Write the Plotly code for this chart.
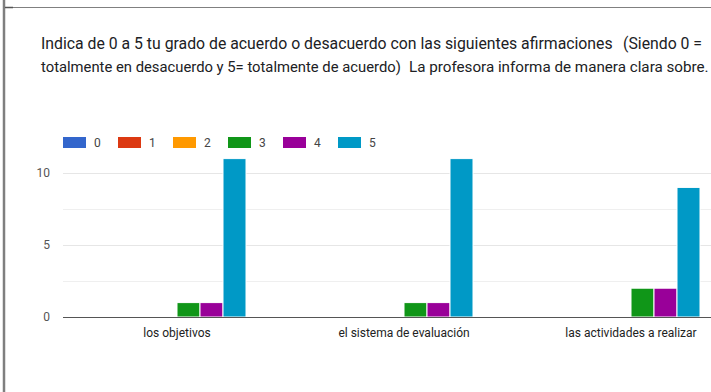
import plotly.graph_objects as go

# Survey results: how many answers got each score (0-5) per statement
categories = ["los objetivos", "el sistema de evaluación", "las actividades a realizar"]
series_names = ["0", "1", "2", "3", "4", "5"]
counts = {
    "0": [0, 0, 0],
    "1": [0, 0, 0],
    "2": [0, 0, 0],
    "3": [1, 1, 2],
    "4": [1, 1, 2],
    "5": [11, 11, 9],
}
colors = ["#3366cc", "#dc3912", "#ff9900", "#109618", "#990099", "#0099c6"]
y_ticks = [0, 5, 10]

# question text pieces: (text, anchor px, anchor side, line, font size)
title_parts = [
    ("Indica de 0 a 5 tu grado de acuerdo o desacuerdo con las siguientes afirmaciones", 39, "left", 0, 15.8),
    ("(Siendo 0 =", 704, "right", 0, 15.8),
    ("totalmente en desacuerdo y 5= totalmente de acuerdo)", 39, "left", 1, 14.8),
    ("La profesora informa de manera clara sobre.", 407, "left", 1, 15.2),
]

W, H = 711, 392
ML, MR, MT, MB = 63, 0, 137, 75
PW, PH = W - ML - MR, H - MT - MB


def px_x(px):
    return (px - ML) / PW


def px_y(py):
    return (H - MB - py) / PH


fig = go.Figure()
for name, col in zip(series_names, colors):
    fig.add_trace(go.Bar(
        x=categories, y=counts[name], name=name,
        marker=dict(color=col, line=dict(color="white", width=1)),
        showlegend=False,
    ))

shapes = []
annotations = []

# legend row: wide colour swatches with labels
for k, (name, col) in enumerate(zip(series_names, colors)):
    x0 = ML + 55 * k
    shapes.append(dict(type="rect", xref="paper", yref="paper",
                       x0=px_x(x0), x1=px_x(x0 + 23), y0=px_y(148), y1=px_y(137),
                       fillcolor=col, line=dict(width=0), layer="above"))
    annotations.append(dict(text=name, xref="paper", yref="paper",
                            x=px_x(x0 + 29), y=px_y(142.5), xanchor="left", yanchor="middle",
                            showarrow=False, font=dict(family="Roboto", size=12, color="#444444")))

# card frame
shapes.append(dict(type="line", xref="paper", yref="paper",
                   x0=px_x(4), x1=px_x(4), y0=px_y(-2), y1=px_y(H + 2),
                   line=dict(color="#7f7f7f", width=2.5)))
shapes.append(dict(type="line", xref="paper", yref="paper",
                   x0=px_x(5), x1=px_x(W + 2), y0=px_y(7.5), y1=px_y(7.5),
                   line=dict(color="#808080", width=1.2)))
shapes.append(dict(type="line", xref="paper", yref="paper",
                   x0=px_x(5), x1=px_x(13), y0=px_y(7.5), y1=px_y(7.5),
                   line=dict(color="#555555", width=1.5)))

# question text
for text, pos, side, row, size in title_parts:
    annotations.append(dict(text=text, xref="paper", yref="paper",
                            x=px_x(pos), y=px_y(43 + 24 * row), xanchor=side, yanchor="middle",
                            showarrow=False, align=side,
                            font=dict(family="Roboto", size=size, color="#202124")))

fig.update_layout(
    width=W, height=H,
    margin=dict(l=ML, r=MR, t=MT, b=MB, pad=0),
    paper_bgcolor="white", plot_bgcolor="white",
    barmode="group", bargap=0.392, bargroupgap=0,
    shapes=shapes, annotations=annotations,
    font=dict(family="Roboto", size=11, color="#444444"),
)
fig.update_xaxes(
    range=[(ML - 177) / 227, (W - 177) / 227],
    showgrid=False, showline=False, zeroline=False, ticks="",
    tickfont=dict(family="Roboto", size=12, color="#222222"),
    ticklabelstandoff=7,
)
fig.update_yaxes(
    range=[0, 12.5],
    tickvals=y_ticks, ticktext=[str(v) for v in y_ticks],
    showgrid=True, gridcolor="#e6e6e6", gridwidth=1,
    minor=dict(tickvals=[2.5, 7.5, 12.5], showgrid=True, gridcolor="#efefef", gridwidth=1),
    zeroline=True, zerolinecolor="#555555", zerolinewidth=1.3,
    showline=False, ticks="",
    tickfont=dict(family="Roboto", size=12, color="#555555"),
    ticklabelstandoff=12,
)

fig.write_html("out.html")
